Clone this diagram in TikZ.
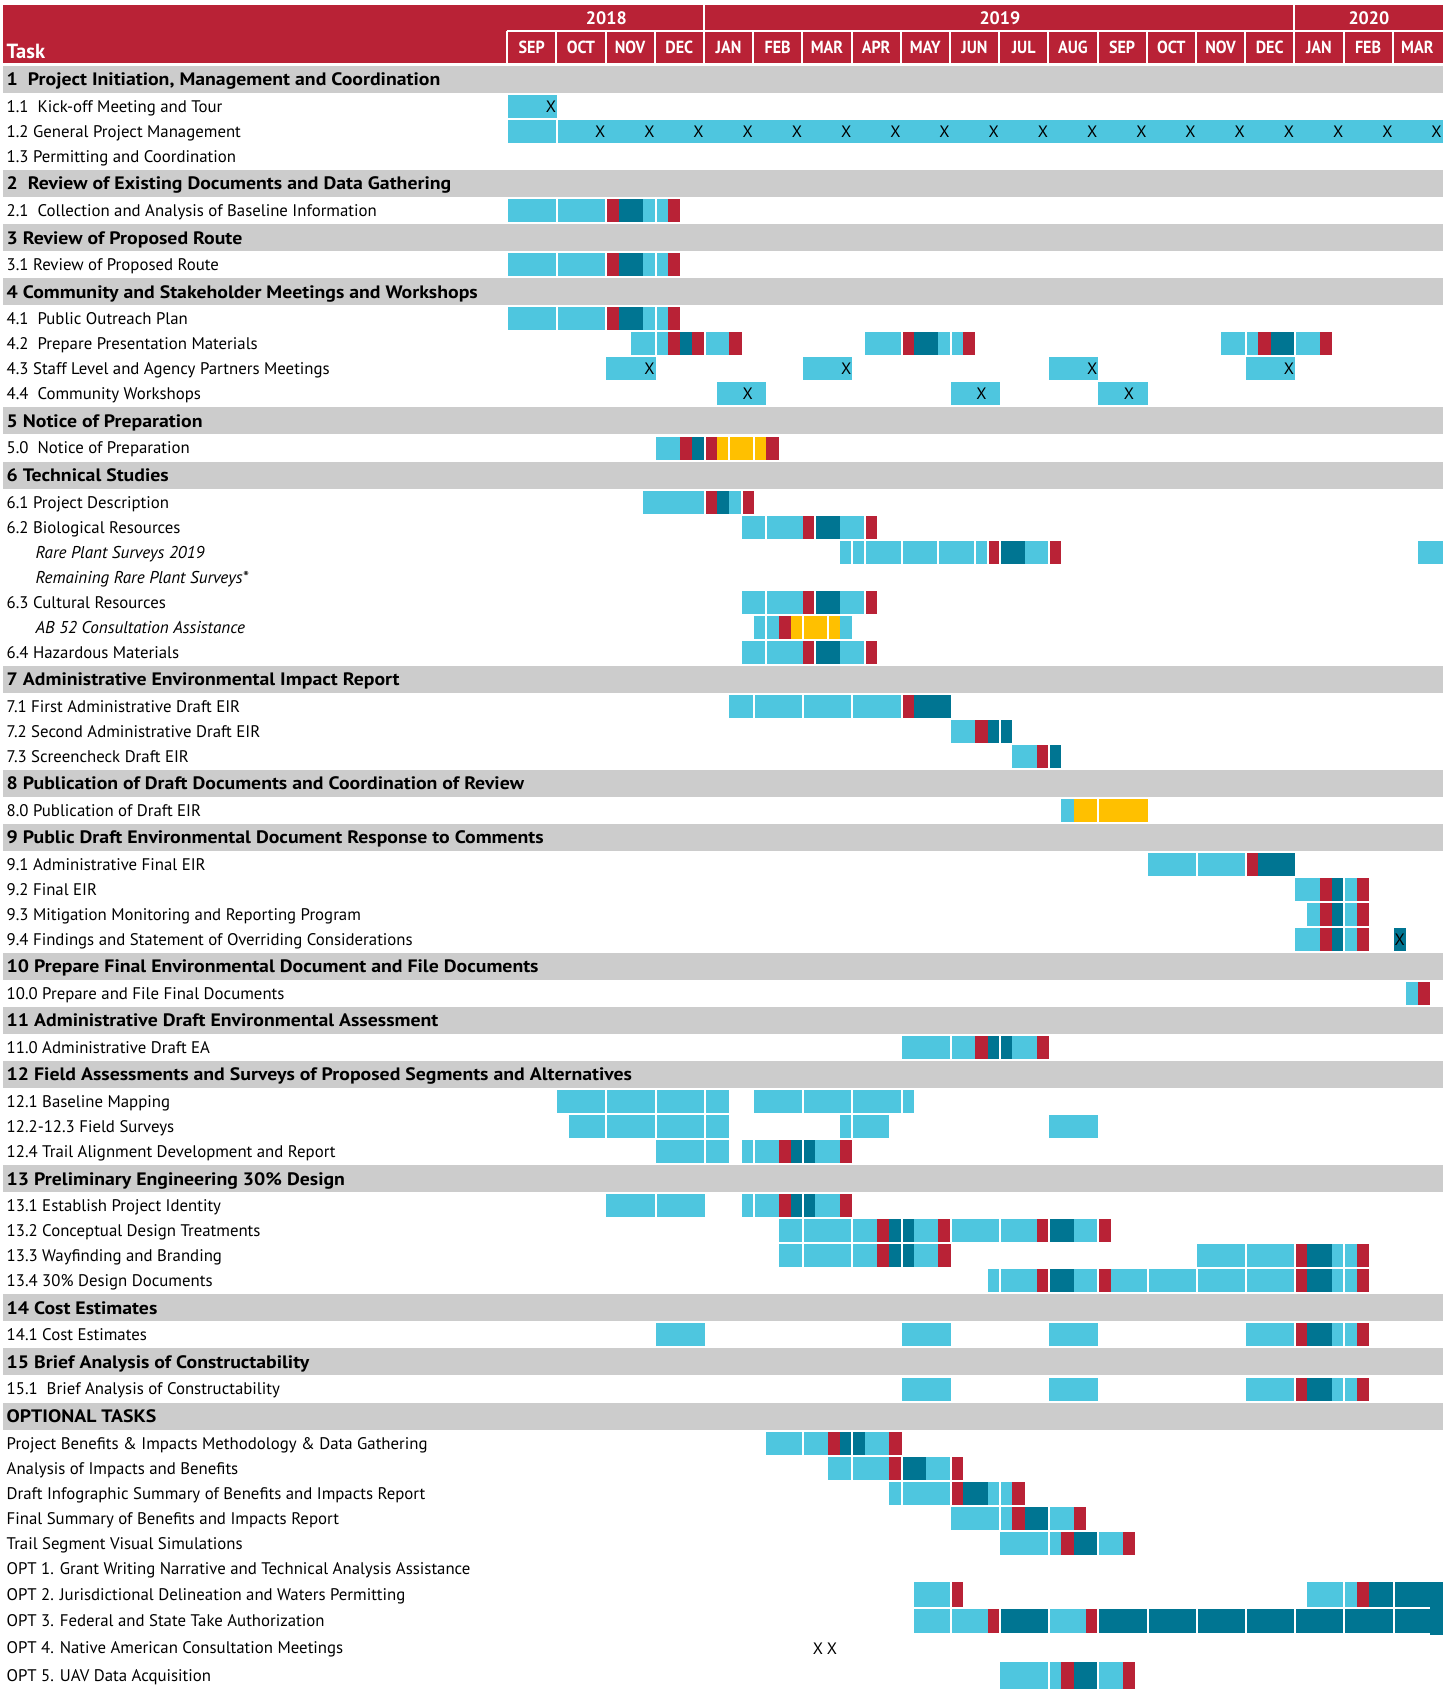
\documentclass[tikz,border=0pt]{standalone}
\usepackage{fontspec}
\setmainfont{PT Sans}
\definecolor{cb}{HTML}{4EC6DF}
\definecolor{ct}{HTML}{007592}
\definecolor{cr}{HTML}{B92236}
\definecolor{cy}{HTML}{FFC000}
\definecolor{gband}{HTML}{CCCCCC}
\definecolor{hred}{HTML}{B92236}
\newcommand\xO{507.9}
\newcommand\uW{12.3}
\def\gtok{g}
\newcommand\bars[4]{%
  \xdef\curw{#3}\xdef\lins{0}%
  \foreach \tk in {#4}{%
    \edef\tmp{\tk}%
    \ifx\tmp\gtok
      \fill[white] ({\xO+\curw*\uW-1},{#1-0.4}) rectangle ({\xO+\curw*\uW},{#1+#2+0.4});
      \xdef\lins{1}%
    \else
      \edef\fc{c\tmp}%
      \fill[fill=\fc] ({\xO+\curw*\uW+\lins},{#1}) rectangle ({\xO+(\curw+1)*\uW},{#1+#2});
      \pgfmathtruncatemacro\nw{\curw+1}\xdef\curw{\nw}\xdef\lins{0}%
    \fi
  }}
\newcommand\br[3]{\bars{#1}{23}{#2}{#3}}
\tikzset{
  tl/.style={anchor=base west, inner sep=0, font=\fontsize{16.8}{19}\selectfont},
  il/.style={anchor=base west, inner sep=0, font=\fontsize{17.1}{19}\selectfont\itshape},
  bl/.style={anchor=base west, inner sep=0, font=\fontsize{18}{20}\selectfont\bfseries},
  xmk/.style={inner sep=0, font=\fontsize{16.5}{19}\selectfont},
  mlbl/.style={inner sep=0, text=white, font=\fontsize{17.5}{19}\selectfont\bfseries},
  ylbl/.style={inner sep=0, text=white, font=\fontsize{18}{19}\selectfont\bfseries},
}
\newcommand\band[3]{%
  \fill[gband] (3,#1) rectangle (1443,{#1+27});
  \node[bl] (#2) at (6.5,{#1+19.8}) {\scalebox{1.1}[1]{#3}};}
\newcommand\task[3]{\node[tl] (#2) at (6.5,{#1+17.4}) {#3};}
\newcommand\itask[3]{\node[il] (#2) at (35.5,{#1+17.4}) {#3};}
\newcommand\xm[3]{\node[xmk] (#3) at ({\xO+(#2+0.5)*\uW},{#1+11.5}) {X};}
\begin{document}
\begin{tikzpicture}[x=1pt,y=-1pt]
\path[use as bounding box] (0,0) rectangle (1453,1689);
% header
\fill[hred] (3,5) rectangle (1443,63);
\draw[white,line width=2pt] (507,31) -- (1445,31);
\draw[white,line width=2pt] (507,31) -- (507,64);
\foreach \m in {1,...,18} \draw[white,line width=2pt] ({\xO+4*\m*\uW-0.8},31) -- ({\xO+4*\m*\uW-0.8},64);
\foreach \m in {4,16} \draw[white,line width=2pt] ({\xO+4*\m*\uW-0.8},4) -- ({\xO+4*\m*\uW-0.8},31);
\node[anchor=base west, inner sep=0, text=white, font=\fontsize{20.5}{22}\selectfont\bfseries] (task) at (6.5,58) {Task};
\node[ylbl] (y18) at ({\xO+8*\uW},18) {2018};
\node[ylbl] (y19) at ({\xO+40*\uW},18) {2019};
\node[ylbl] (y20) at ({\xO+70*\uW},18) {2020};
\foreach \m/\n in {0/SEP,1/OCT,2/NOV,3/DEC,4/JAN,5/FEB,6/MAR,7/APR,8/MAY,9/JUN,10/JUL,11/AUG,12/SEP,13/OCT,14/NOV,15/DEC,16/JAN,17/FEB,18/MAR}
  \node[mlbl] (mon\m) at ({\xO+(4*\m+2)*\uW-0.8},47.5) {\scalebox{0.92}[1]{\n}};
% 1
\band{66}{s1}{1\ \ Project Initiation, Management and Coordination}
\task{95.1}{t11}{1.1\ \ Kick-off Meeting and Tour}
\br{95.1}{0}{b,b,b,b}\xm{95.1}{3}{x11}
\task{120.1}{t12}{1.2 General Project Management}
\fill[cb] (\xO,120.1) rectangle ({\xO+4*\uW-1},143.1);
\fill[cb] ({\xO+4*\uW+1},120.1) rectangle ({\xO+76*\uW},143.1);
\foreach \m in {1,...,18}{\xm{120.1}{4*\m+3}{x12m\m}}
\task{145.1}{t13}{1.3 Permitting and Coordination}
% 2
\band{170.1}{s2}{2\ \ Review of Existing Documents and Data Gathering}
\task{199.2}{t21}{2.1\ \ Collection and Analysis of Baseline Information}
\br{199.2}{0}{b,b,b,b,g,b,b,b,b,g,r,t,t,b,g,b,r}
% 3
\band{224.2}{s3}{3 Review of Proposed Route}
\task{253.3}{t31}{3.1 Review of Proposed Route}
\br{253.3}{0}{b,b,b,b,g,b,b,b,b,g,r,t,t,b,g,b,r}
% 4
\band{278.3}{s4}{4 Community and Stakeholder Meetings and Workshops}
\task{307.4}{t41}{4.1\ \ Public Outreach Plan}
\br{307.4}{0}{b,b,b,b,g,b,b,b,b,g,r,t,t,b,g,b,r}
\task{332.4}{t42}{4.2\ \ Prepare Presentation Materials}
\br{332.4}{10}{b,b,g,b,r,t,r,g,b,b,r}
\br{332.4}{29}{b,b,b,g,r,t,t,b,g,b,r}
\br{332.4}{58}{b,b,g,b,r,t,t,g,b,b,r}
\task{357.4}{t43}{4.3 Staff Level and Agency Partners Meetings}
\br{357.4}{8}{b,b,b,b}\xm{357.4}{11}{x43a}
\br{357.4}{24}{b,b,b,b}\xm{357.4}{27}{x43b}
\br{357.4}{44}{b,b,b,b}\xm{357.4}{47}{x43c}
\br{357.4}{60}{b,b,b,b}\xm{357.4}{63}{x43d}
\task{382.4}{t44}{4.4\ \ Community Workshops}
\br{382.4}{17}{b,b,b,b}\xm{382.4}{19}{x44a}
\br{382.4}{36}{b,b,b,b}\xm{382.4}{38}{x44b}
\br{382.4}{48}{b,b,b,b}\xm{382.4}{50}{x44c}
% 5
\band{407.4}{s5}{5 Notice of Preparation}
\task{436.5}{t50}{5.0\ \ Notice of Preparation}
\br{436.5}{12}{b,b,r,t,g,r,y,g,y,y,g,y,r}
% 6
\band{461.5}{s6}{6 Technical Studies}
\task{490.6}{t61}{6.1 Project Description}
\br{490.6}{11}{b,b,b,b,b,g,r,t,b,g,r}
\task{515.6}{t62}{6.2 Biological Resources}
\br{515.6}{19}{b,b,g,b,b,b,r,g,t,t,b,b,g,r}
\itask{540.6}{t62a}{Rare Plant Surveys 2019}
\br{540.6}{27}{b,g,b,g,b,b,b,g,b,b,b,g,b,b,b,g,b,g,r,g,t,t,b,b,g,r}
\br{540.6}{74}{b,b}
\itask{565.6}{t62b}{Remaining Rare Plant Surveys*}
\task{590.6}{t63}{6.3 Cultural Resources}
\br{590.6}{19}{b,b,g,b,b,b,r,g,t,t,b,b,g,r}
\itask{615.6}{t63a}{AB 52 Consultation Assistance}
\br{615.6}{20}{b,g,b,r,y,g,y,y,g,y,b}
\task{640.6}{t64}{6.4 Hazardous Materials}
\br{640.6}{19}{b,b,g,b,b,b,r,g,t,t,b,b,g,r}
% 7
\band{665.6}{s7}{7 Administrative Environmental Impact Report}
\task{694.7}{t71}{7.1 First Administrative Draft EIR}
\br{694.7}{18}{b,b,g,b,b,b,b,g,b,b,b,b,g,b,b,b,b,g,r,t,t,t}
\task{719.7}{t72}{7.2 Second Administrative Draft EIR}
\br{719.7}{36}{b,b,r,t,g,t}
\task{744.7}{t73}{7.3 Screencheck Draft EIR}
\br{744.7}{41}{b,b,r,g,t}
% 8
\band{769.7}{s8}{8 Publication of Draft Documents and Coordination of Review}
\task{798.8}{t80}{8.0 Publication of Draft EIR}
\br{798.8}{45}{b,y,y,g,y,y,y,y}
% 9
\band{823.8}{s9}{9 Public Draft Environmental Document Response to Comments}
\task{852.9}{t91}{9.1 Administrative Final EIR}
\br{852.9}{52}{b,b,b,b,g,b,b,b,b,g,r,t,t,t}
\task{877.9}{t92}{9.2 Final EIR}
\br{877.9}{64}{b,b,r,t,g,b,r}
\task{902.9}{t93}{9.3 Mitigation Monitoring and Reporting Program}
\br{902.9}{65}{b,r,t,g,b,r}
\task{927.9}{t94}{9.4 Findings and Statement of Overriding Considerations}
\br{927.9}{64}{b,b,r,t,g,b,r}
\br{927.9}{72}{t}\xm{927.9}{72}{x94}
% 10
\band{952.9}{s10}{10 Prepare Final Environmental Document and File Documents}
\task{982}{t100}{10.0 Prepare and File Final Documents}
\br{982}{73}{b,r}
% 11
\band{1007}{s11}{11 Administrative Draft Environmental Assessment}
\task{1036.1}{t110}{11.0 Administrative Draft EA}
\br{1036.1}{32}{b,b,b,b,g,b,b,r,t,g,t,b,b,r}
% 12
\band{1061.1}{s12}{12 Field Assessments and Surveys of Proposed Segments and Alternatives}
\task{1090.2}{t121}{12.1 Baseline Mapping}
\br{1090.2}{4}{b,b,b,b,g,b,b,b,b,g,b,b,b,b,g,b,b}
\br{1090.2}{20}{b,b,b,b,g,b,b,b,b,g,b,b,b,b,g,b}
\task{1115.2}{t122}{12.2-12.3 Field Surveys}
\br{1115.2}{5}{b,b,b,g,b,b,b,b,g,b,b,b,b,g,b,b}
\br{1115.2}{27}{b,g,b,b,b}
\br{1115.2}{44}{b,b,b,b}
\task{1140.2}{t124}{12.4 Trail Alignment Development and Report}
\br{1140.2}{12}{b,b,b,b,g,b,b}
\br{1140.2}{19}{b,g,b,b,r,t,g,t,b,b,r}
% 13
\band{1165.2}{s13}{13 Preliminary Engineering 30\% Design}
\task{1194.3}{t131}{13.1 Establish Project Identity}
\br{1194.3}{8}{b,b,b,b,g,b,b,b,b}
\br{1194.3}{19}{b,g,b,b,r,t,g,t,b,b,r}
\task{1219.3}{t132}{13.2 Conceptual Design Treatments}
\br{1219.3}{22}{b,b,g,b,b,b,b,g,b,b,r,t,g,t,b,b,r,g,b,b,b,b,g,b,b,b,r,g,t,t,b,b,g,r}
\task{1244.3}{t133}{13.3 Wayfinding and Branding}
\br{1244.3}{22}{b,b,g,b,b,b,b,g,b,b,r,t,g,t,b,b,r}
\br{1244.3}{56}{b,b,b,b,g,b,b,b,b,g,r,t,t,b,g,b,r}
\task{1269.3}{t134}{13.4 30\% Design Documents}
\br{1269.3}{39}{b,g,b,b,b,r,g,t,t,b,b,g,r,b,b,b,g,b,b,b,b,g,b,b,b,b,g,b,b,b,b,g,r,t,t,b,g,b,r}
% 14
\band{1294.3}{s14}{14 Cost Estimates}
\task{1323.4}{t141}{14.1 Cost Estimates}
\br{1323.4}{12}{b,b,b,b}
\br{1323.4}{32}{b,b,b,b}
\br{1323.4}{44}{b,b,b,b}
\br{1323.4}{60}{b,b,b,b,g,r,t,t,b,g,b,r}
% 15
\band{1348.4}{s15}{15 Brief Analysis of Constructability}
\task{1377.5}{t151}{15.1\ \ Brief Analysis of Constructability}
\br{1377.5}{32}{b,b,b,b}
\br{1377.5}{44}{b,b,b,b}
\br{1377.5}{60}{b,b,b,b,g,r,t,t,b,g,b,r}
% optional
\band{1402.5}{sopt}{OPTIONAL TASKS}
\task{1431.6}{o1}{Project Benefits \& Impacts Methodology \& Data Gathering}
\br{1431.6}{21}{b,b,b,g,b,b,r,t,g,t,b,b,r}
\task{1456.6}{o2}{Analysis of Impacts and Benefits}
\br{1456.6}{26}{b,b,g,b,b,b,r,g,t,t,b,b,g,r}
\task{1481.6}{o3}{Draft Infographic Summary of Benefits and Impacts Report}
\br{1481.6}{31}{b,g,b,b,b,b,g,r,t,t,b,g,b,r}
\task{1506.6}{o4}{Final Summary of Benefits and Impacts Report}
\br{1506.6}{36}{b,b,b,b,g,b,r,t,t,g,b,b,r}
\task{1531.6}{o5}{Trail Segment Visual Simulations}
\br{1531.6}{40}{b,b,b,b,g,b,r,t,t,g,b,b,r}
\task{1556.6}{o6}{OPT 1. Grant Writing Narrative and Technical Analysis Assistance}
\task{1583}{o7}{OPT 2. Jurisdictional Delineation and Waters Permitting}
\bars{1582}{25}{33}{b,b,b,g,r}
\bars{1582}{25}{65}{b,b,b,g,b,r,t,t,g,t,t,t,t}
\task{1609.5}{o8}{OPT 3. Federal and State Take Authorization}
\bars{1609}{24}{33}{b,b,b,g,b,b,b,r,g,t,t,t,t,g,b,b,b,r,g,t,t,t,t,g,t,t,t,t,g,t,t,t,t,g,t,t,t,t,g,t,t,t,t,g,t,t,t,t,g,t,t,t}
\fill[ct] ({\xO+75*\uW},1606) rectangle ({\xO+76*\uW},1635);
\task{1636}{o9}{OPT 4. Native American Consultation Meetings}
\node[xmk] (x4a) at (818,1649) {X};
\node[xmk] (x4b) at (832,1649) {X};
\task{1664}{o10}{OPT 5. UAV Data Acquisition}
\bars{1662}{27}{40}{b,b,b,b,g,b,r,t,t,g,b,b,r}
\end{tikzpicture}
\end{document}
